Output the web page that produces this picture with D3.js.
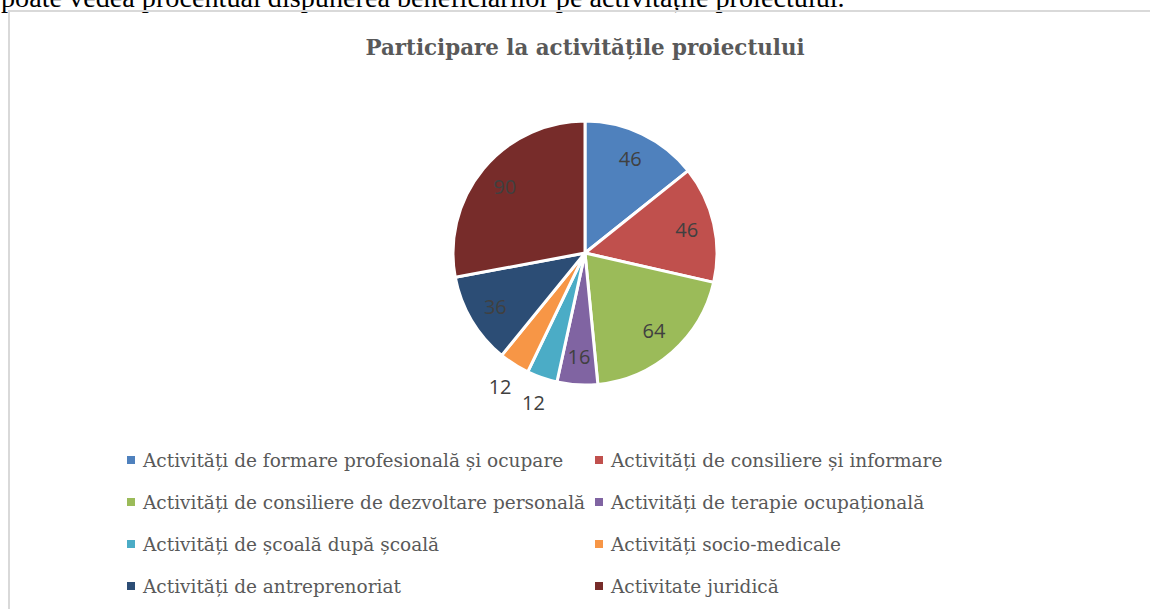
<!DOCTYPE html>
<html>
<head>
<meta charset="utf-8">
<script src="https://cdn.jsdelivr.net/npm/d3@7"></script>
<style>
  body { margin: 0; background: #fff; }
  svg { display: block; }
</style>
</head>
<body>
<div id="chart"></div>
<script>
// chart data
var categories = [
    "Activități de formare profesională și ocupare",
    "Activități de consiliere și informare",
    "Activități de consiliere de dezvoltare personală",
    "Activități de terapie ocupațională",
    "Activități de școală după școală",
    "Activități socio-medicale",
    "Activități de antreprenoriat",
    "Activitate juridică"
];
var values = [46, 46, 64, 16, 12, 12, 36, 90];
var colors = ['#4F81BD', '#C0504D', '#9BBB59', '#8064A2', '#4BACC6', '#F79646', '#2C4D75', '#772C2A'];
var title = "Participare la activitățile proiectului";
var pageText = "poate vedea procentual dispunerea beneficiarilor pe activitățile proiectului.";

var width = 1150, height = 609;
var cx = 585, cy = 253, radius = 132;

var svg = d3.select('#chart').append('svg')
    .attr('width', width)
    .attr('height', height);

// line of document text cut off above the chart
svg.append('text')
    .attr('x', 1)
    .attr('y', 7)
    .attr('font-family', 'Liberation Serif, serif')
    .attr('font-size', 28.2)
    .attr('fill', '#000')
    .text(pageText);

// chart frame
svg.append('rect')
    .attr('x', 9)
    .attr('y', 11)
    .attr('width', width + 20)
    .attr('height', height + 20)
    .attr('fill', 'none')
    .attr('stroke', '#d9d9d9')
    .attr('stroke-width', 2);

svg.append('text')
    .attr('x', cx)
    .attr('y', 55)
    .attr('text-anchor', 'middle')
    .attr('font-family', 'DejaVu Serif, serif')
    .attr('font-weight', 'bold')
    .attr('font-size', 21.4)
    .attr('fill', '#595959')
    .text(title);

var data = categories.map(function(c, i) { return {name: c, value: values[i]}; });

var pie = d3.pie().sort(null).value(d => d.value);
var arc = d3.arc().innerRadius(0).outerRadius(radius);
var inLabel = d3.arc().innerRadius(radius * 0.79).outerRadius(radius * 0.79);
var outLabel = d3.arc().innerRadius(radius * 1.2).outerRadius(radius * 1.2);
var color = d3.scaleOrdinal().domain(categories).range(colors);

var g = svg.append('g').attr('transform', 'translate(' + cx + ',' + cy + ')');
var arcs = pie(data);

g.selectAll('path')
    .data(arcs)
    .enter().append('path')
    .attr('d', arc)
    .attr('fill', d => color(d.data.name))
    .attr('stroke', '#fff')
    .attr('stroke-width', 3)
    .attr('stroke-linejoin', 'round');

// small slices get their label outside (best fit)
g.selectAll('text.lbl')
    .data(arcs)
    .enter().append('text')
    .attr('class', 'lbl')
    .attr('transform', function(d) {
        var p = d.data.value < 15 ? outLabel.centroid(d) : inLabel.centroid(d);
        return 'translate(' + p + ')';
    })
    .attr('text-anchor', 'middle')
    .attr('dy', '0.36em')
    .attr('font-family', 'Open Sans, sans-serif')
    .attr('font-size', 20)
    .attr('fill', '#404040')
    .text(d => d.data.value);

// legend, two columns
var legend = svg.append('g')
    .selectAll('g')
    .data(categories)
    .enter().append('g')
    .attr('transform', (d, i) => 'translate(' + (i % 2 ? 595 : 127) + ',' + (460 + Math.floor(i / 2) * 42) + ')');

legend.append('rect')
    .attr('x', 0)
    .attr('y', -4)
    .attr('width', 8)
    .attr('height', 8)
    .attr('fill', d => color(d));

legend.append('text')
    .attr('x', 16)
    .attr('y', 6.5)
    .attr('font-family', 'DejaVu Serif, serif')
    .attr('font-size', 18.5)
    .attr('fill', '#595959')
    .text(d => d);
</script>
</body>
</html>
